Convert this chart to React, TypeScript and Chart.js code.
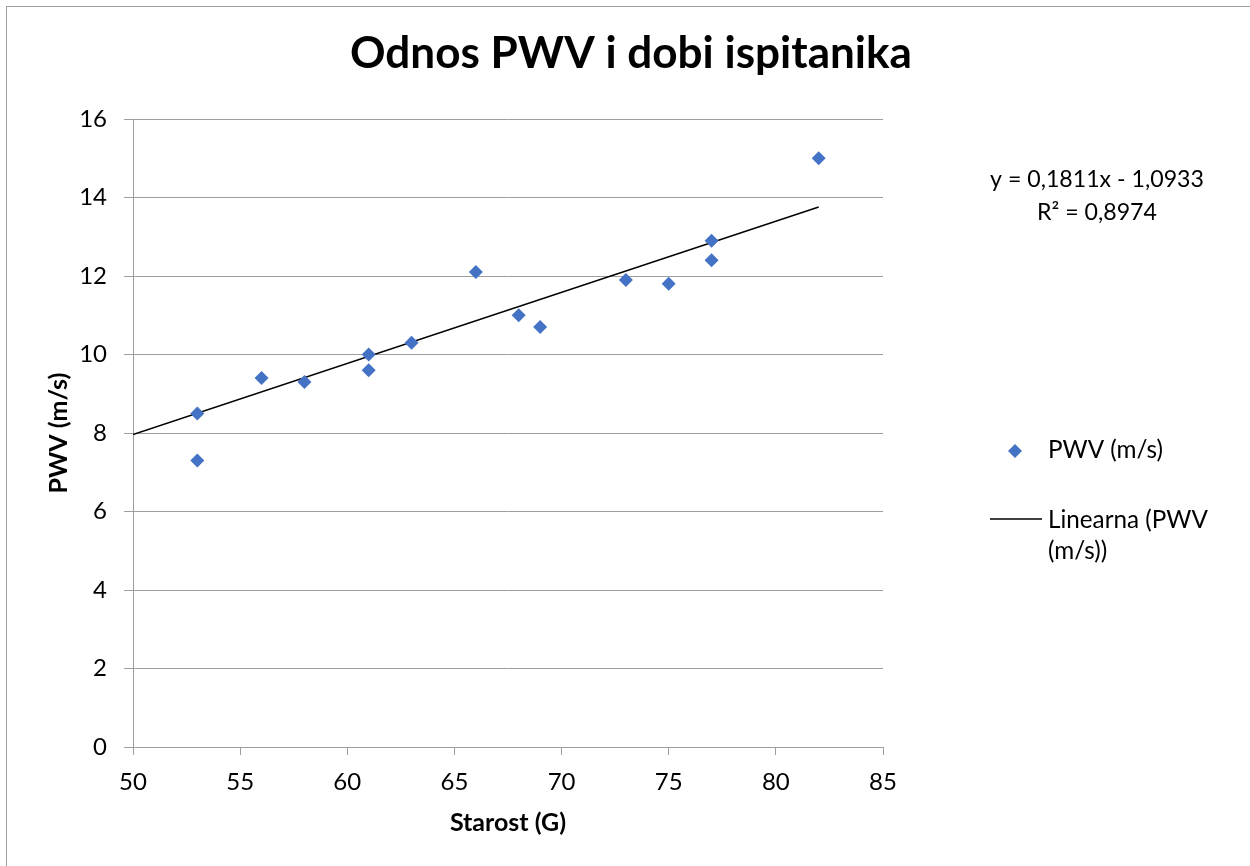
import React, { useEffect, useRef } from "react";
import { Chart, registerables } from "chart.js";

Chart.register(...registerables);

// ---- data ----
const ages = [53, 53, 56, 58, 61, 61, 63, 66, 68, 69, 73, 75, 77, 77, 82];
const pwv = [8.5, 7.3, 9.4, 9.3, 10.0, 9.6, 10.3, 12.1, 11.0, 10.7, 11.9, 11.8, 12.9, 12.4, 15.0];
const trendX = [50, 82];
const trendY = [7.96, 13.76];

const chartTitle = "Odnos PWV i dobi ispitanika";
const xAxisTitle = "Starost (G)";
const yAxisTitle = "PWV (m/s)";
const seriesLabel = "PWV (m/s)";
const trendLabel = ["Linearna (PWV", "(m/s))"];
const equationLines = ["y = 0,1811x - 1,0933", "R² = 0,8974"];

const FONT = "Lato, 'Open Sans', sans-serif";
const BLUE = "#4472C4";

function fitFont(ctx: CanvasRenderingContext2D, text: string, weight: string, targetWidth: number) {
  ctx.font = `${weight} 100px ${FONT}`;
  const w = ctx.measureText(text).width;
  const size = (100 * targetWidth) / w;
  return `${weight} ${size.toFixed(2)}px ${FONT}`;
}

const overlayPlugin = {
  id: "overlay",
  afterDraw(chart: any) {
    const ctx: CanvasRenderingContext2D = chart.ctx;
    ctx.save();
    ctx.fillStyle = "#000";
    ctx.textBaseline = "alphabetic";

    // title
    ctx.font = fitFont(ctx, chartTitle, "bold", 562);
    ctx.textAlign = "center";
    ctx.fillText(chartTitle, 624, 61);

    // equation
    ctx.font = fitFont(ctx, equationLines[0], "normal", 214);
    ctx.textAlign = "center";
    ctx.fillText(equationLines[0], 1090, 180);
    ctx.fillText(equationLines[1], 1090, 213);

    // legend
    const legendFont = fitFont(ctx, seriesLabel, "normal", 115);
    ctx.font = legendFont;
    ctx.textAlign = "left";
    const cx = 1008, cy = 444, r = 7;
    ctx.beginPath();
    ctx.moveTo(cx, cy - r);
    ctx.lineTo(cx + r, cy);
    ctx.lineTo(cx, cy + r);
    ctx.lineTo(cx - r, cy);
    ctx.closePath();
    ctx.fillStyle = BLUE;
    ctx.fill();
    ctx.fillStyle = "#000";
    ctx.fillText(seriesLabel, 1041, 451);

    ctx.strokeStyle = "#000";
    ctx.lineWidth = 1.5;
    ctx.beginPath();
    ctx.moveTo(983, 512);
    ctx.lineTo(1035, 512);
    ctx.stroke();
    ctx.fillText(trendLabel[0], 1041, 521);
    ctx.fillText(trendLabel[1], 1041, 552);

    ctx.restore();
  },
};

export default function App() {
  const canvasRef = useRef<HTMLCanvasElement | null>(null);

  useEffect(() => {
    if (!canvasRef.current) return;
    Chart.defaults.color = "#000";
    const chart = new Chart(canvasRef.current, {
      type: "scatter",
      data: {
        datasets: [
          {
            label: seriesLabel,
            data: ages.map((a, i) => ({ x: a, y: pwv[i] })),
            pointStyle: "rectRot",
            pointRadius: 7,
            pointHoverRadius: 7,
            backgroundColor: BLUE,
            borderColor: BLUE,
            borderWidth: 0,
          },
          {
            label: trendLabel.join(" "),
            data: trendX.map((x, i) => ({ x, y: trendY[i] })),
            showLine: true,
            borderColor: "#000",
            borderWidth: 1.5,
            pointRadius: 0,
            fill: false,
          },
        ],
      },
      options: {
        responsive: false,
        animation: false,
        events: [],
        layout: { padding: { top: 112, right: 367, bottom: 0, left: 0 } },
        plugins: {
          legend: { display: false },
          title: { display: false },
          tooltip: { enabled: false },
        },
        scales: {
          x: {
            type: "linear",
            min: 50,
            max: 85,
            afterFit: (s: any) => {
              s.height = 119;
            },
            ticks: {
              stepSize: 5,
              padding: 13,
              color: "#000",
              font: { family: FONT, size: 24 },
            },
            grid: {
              drawOnChartArea: false,
              drawTicks: true,
              tickLength: 8,
              color: "#9e9e9e",
              lineWidth: 1,
            },
            border: { display: true, color: "#9e9e9e", width: 1 },
            title: {
              display: true,
              text: xAxisTitle,
              color: "#000",
              font: { family: FONT, size: 25, weight: "bold" },
              padding: { top: 0, bottom: 28 },
            },
          },
          y: {
            type: "linear",
            min: 0,
            max: 16,
            afterFit: (s: any) => {
              s.width = 126;
            },
            ticks: {
              stepSize: 2,
              padding: 17,
              color: "#000",
              font: { family: FONT, size: 24 },
            },
            grid: {
              drawOnChartArea: true,
              drawTicks: true,
              tickLength: 9,
              color: "#9e9e9e",
              lineWidth: 1,
            },
            border: { display: true, color: "#9e9e9e", width: 1 },
            title: {
              display: true,
              text: yAxisTitle,
              color: "#000",
              font: { family: FONT, size: 25, weight: "bold" },
              padding: { top: 37, bottom: 0 },
            },
          },
        },
      },
      plugins: [overlayPlugin],
    } as any);
    return () => chart.destroy();
  }, []);

  return (
    <div
      style={{
        position: "fixed",
        left: 6,
        top: 6,
        width: 1244,
        height: 860,
        borderLeft: "1px solid #9e9e9e",
        borderTop: "1px solid #9e9e9e",
        boxSizing: "border-box",
        background: "#fff",
      }}
    >
      <canvas ref={canvasRef} width={1243} height={859} style={{ display: "block" }} />
    </div>
  );
}
